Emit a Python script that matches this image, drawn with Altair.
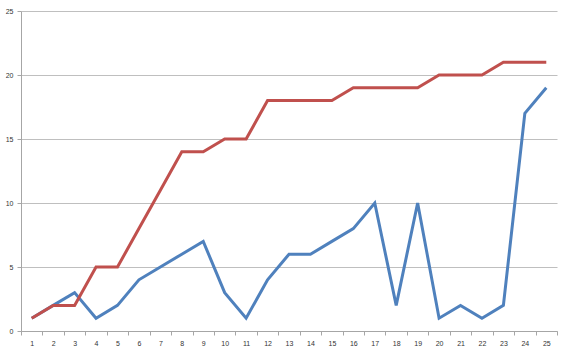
import altair as alt
import pandas as pd

categories = list(range(1, 26))
blue_values = [1, 2, 3, 1, 2, 4, 5, 6, 7, 3, 1, 4, 6, 6, 7, 8, 10, 2, 10, 1, 2, 1, 2, 17, 19]
red_values = [1, 2, 2, 5, 5, 8, 11, 14, 14, 15, 15, 18, 18, 18, 18, 19, 19, 19, 19, 20, 20, 20, 21, 21, 21]

rows = []
for c, b in zip(categories, blue_values):
    rows.append({"x": c, "y": b, "series": "Blue"})
for c, r in zip(categories, red_values):
    rows.append({"x": c, "y": r, "series": "Red"})
df = pd.DataFrame(rows)

chart = alt.Chart(df).mark_line(strokeWidth=3).encode(
    x=alt.X("x:O", bandPosition=0.5,
            scale=alt.Scale(type="band", paddingInner=0, paddingOuter=0),
            axis=alt.Axis(title=None, labelAngle=0, tickBand="extent", grid=False,
                          domainColor="#a6a6a6", tickColor="#a6a6a6", tickSize=4,
                          labelFontSize=7, labelColor="#333333", labelPadding=4,
                          labelFont="Liberation Sans")),
    y=alt.Y("y:Q", scale=alt.Scale(domain=[0, 25]),
            axis=alt.Axis(title=None, values=[0, 5, 10, 15, 20, 25], gridColor="#bfbfbf",
                          domainColor="#a6a6a6", tickColor="#a6a6a6", tickSize=4,
                          labelFontSize=7, labelColor="#333333", labelPadding=4,
                          labelFont="Liberation Sans")),
    color=alt.Color("series:N", scale=alt.Scale(domain=["Blue", "Red"], range=["#4f81bd", "#c0504d"]),
                    legend=None),
    order=alt.Order("series:N", sort="ascending"),
).properties(
    width=536, height=320,
    autosize=alt.AutoSizeParams(type="none"),
    padding={"left": 21, "top": 11, "right": 11, "bottom": 21},
).configure_view(stroke=None)

chart.save("out.html", embed_options={"renderer": "svg", "actions": False})
